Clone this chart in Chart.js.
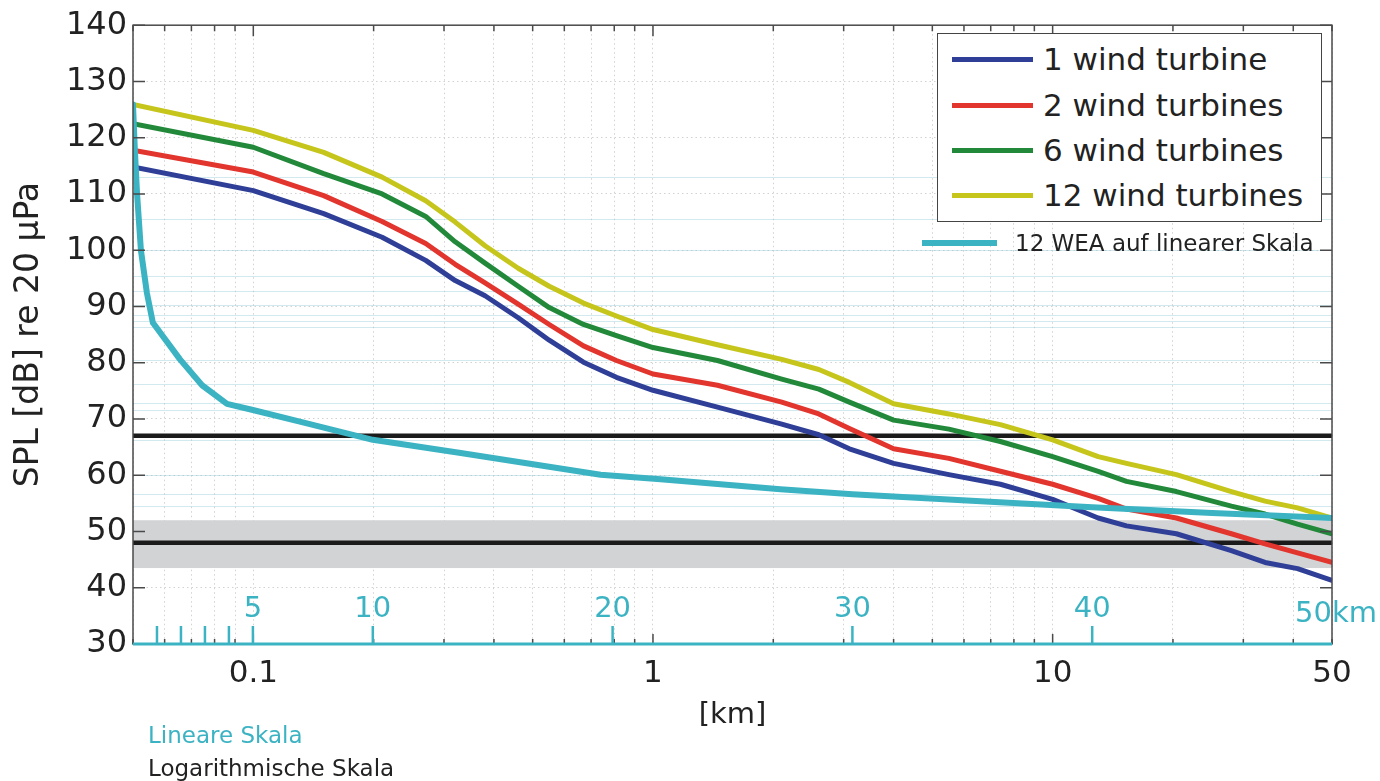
<!DOCTYPE html>
<html lang="de">
<head>
<meta charset="UTF-8">
<title>SPL vs distance</title>
<script src="https://cdn.jsdelivr.net/npm/chart.js"></script>
<style>
  html, body { margin: 0; padding: 0; background: #fff; }
  #wrap { position: relative; width: 1380px; height: 781px; font-family: "DejaVu Sans", sans-serif; color: #222; }
  #chart { position: absolute; left: 0; top: 0; }
  .box { position: absolute; left: 937px; top: 33px; width: 385px; height: 189px; border: 1.5px solid #444; background: #fff; box-sizing: border-box; }
  .row { position: absolute; height: 40px; display: flex; align-items: center; white-space: nowrap; }
  .row .ln { height: 5px; margin-right: 10px; }
  .note { position: absolute; left: 148px; font-size: 23px; white-space: nowrap; }
</style>
</head>
<body>
<div id="wrap">
  <canvas id="chart" width="1380" height="781"></canvas>
  <div class="box"></div>
  <div id="legend"></div>
  <div class="note" style="top:722px;color:#3bb3c3">Lineare Skala</div>
  <div class="note" style="top:755px">Logarithmische Skala</div>
</div>

<script>
  // distance in km (log axis)
  const distKm = [0.05, 0.1, 0.15, 0.21, 0.27, 0.32, 0.38, 0.46, 0.55, 0.67, 0.81, 1, 1.45, 2.1, 2.6, 3.1, 4, 5.5, 7.4, 10, 13, 15.3, 20.4, 28, 34, 41, 50];
  const spl1 = [114.8, 110.6, 106.5, 102.3, 98.2, 94.6, 91.9, 88, 84, 80.1, 77.4, 75.1, 72.1, 69.1, 67.2, 64.7, 62.1, 60.1, 58.4, 55.7, 52.4, 51, 49.6, 46.6, 44.5, 43.4, 41.3];
  const spl2 = [117.8, 113.9, 109.7, 105.1, 101.2, 97.5, 94.2, 90.4, 86.8, 83, 80.4, 78, 76, 73, 70.9, 68.3, 64.7, 63, 60.7, 58.4, 55.9, 54, 52.4, 49.6, 47.8, 46.2, 44.5];
  const spl6 = [122.5, 118.3, 113.6, 110, 106, 101.5, 97.7, 93.6, 89.8, 86.8, 84.8, 82.7, 80.4, 77.1, 75.3, 73, 69.8, 68.2, 66, 63.3, 60.7, 58.9, 57.1, 54.5, 53.1, 51.3, 49.6];
  const spl12 = [125.9, 121.3, 117.4, 113, 108.8, 105, 100.8, 96.8, 93.6, 90.6, 88.3, 85.9, 83.2, 80.6, 78.8, 76.5, 72.7, 70.9, 69, 66.3, 63.3, 62.1, 60.1, 57.1, 55.4, 54.2, 52.4];

  // 12 turbines again, but on the linear km axis
  const linKm = [0, 0.08, 0.17, 0.33, 0.58, 0.83, 1.96, 2.88, 3.92, 5, 7, 10, 13.6, 19.5, 22, 27, 30, 34, 40, 45, 50];
  const linSpl = [125.9, 117.6, 110, 100, 92.4, 87.1, 80.6, 76, 72.7, 71.6, 69.5, 66.3, 64, 60.1, 59.3, 57.5, 56.6, 55.7, 54.3, 53.3, 52.4];

  const seriesNames = ['1 wind turbine', '2 wind turbines', '6 wind turbines', '12 wind turbines'];
  const seriesColors = ['#2f3f97', '#e1352e', '#22893a', '#c6c51c'];
  const linName = '12 WEA auf linearer Skala';
  const cyan = '#3bb3c3';

  const limitLevels = [67, 48];          // black reference lines
  const bandRange = [43.5, 52];          // grey band
  const guideLevels = [113, 105.6, 100, 95.5, 92.8, 90.3, 88.5, 87.4, 86.3, 80.4, 76.2, 72.8, 71.6, 66.3, 60.1, 56.6, 54.5];

  const xLabels = [0.1, 1, 10, 50];
  const linMinor = [1, 2, 3, 4];
  const linLabeled = [5, 10, 20, 30, 40, 50];

  const FONT = '"DejaVu Sans", sans-serif';

  const pts = (xs, ys) => xs.map((x, i) => ({ x, y: ys[i] }));

  const datasets = [];
  datasets.push({ data: pts(linKm, linSpl), xAxisID: 'xlin', borderColor: cyan, borderWidth: 6, order: 0 });
  [spl1, spl2, spl6, spl12].forEach((s, i) => {
    datasets.push({ data: pts(distKm, s), xAxisID: 'x', borderColor: seriesColors[i], borderWidth: 5, order: 1 });
  });
  limitLevels.forEach(l => {
    datasets.push({ data: [{ x: 0.05, y: l }, { x: 50, y: l }], xAxisID: 'x', borderColor: '#1b1b1b', borderWidth: 4.5, order: 2 });
  });

  const isDecade = v => Math.abs(Math.log10(v) - Math.round(Math.log10(v))) < 1e-9;

  const decor = {
    id: 'decor',
    beforeDatasetsDraw(chart) {
      const { ctx, chartArea: a, scales: { y } } = chart;
      ctx.save();
      ctx.strokeStyle = 'rgba(140,200,215,0.4)';
      ctx.lineWidth = 1;
      guideLevels.forEach(g => {
        const py = Math.round(y.getPixelForValue(g)) + 0.5;
        ctx.beginPath(); ctx.moveTo(a.left, py); ctx.lineTo(a.right, py); ctx.stroke();
      });
      ctx.fillStyle = '#d2d3d5';
      const y1 = y.getPixelForValue(bandRange[1]), y0 = y.getPixelForValue(bandRange[0]);
      ctx.fillRect(a.left, y1, a.right - a.left, y0 - y1);
      ctx.restore();
    },
    afterDatasetsDraw(chart) {
      const { ctx, chartArea: a, scales: { x, y, xlin } } = chart;
      ctx.save();
      // frame
      ctx.strokeStyle = '#4a4a4a';
      ctx.lineWidth = 1.5;
      ctx.strokeRect(a.left, a.top, a.right - a.left, a.bottom - a.top);
      // inward y ticks
      y.ticks.forEach(t => {
        const py = y.getPixelForValue(t.value);
        ctx.beginPath();
        ctx.moveTo(a.left, py); ctx.lineTo(a.left + 12, py);
        ctx.moveTo(a.right, py); ctx.lineTo(a.right - 12, py);
        ctx.stroke();
      });
      // inward log x ticks
      x.ticks.forEach(t => {
        const px = x.getPixelForValue(t.value);
        const len = isDecade(t.value) ? 11 : 6;
        ctx.beginPath();
        ctx.moveTo(px, a.top); ctx.lineTo(px, a.top + len);
        ctx.moveTo(px, a.bottom); ctx.lineTo(px, a.bottom - len + 1);
        ctx.stroke();
      });
      // cyan linear axis
      ctx.strokeStyle = cyan;
      ctx.lineWidth = 3;
      ctx.beginPath(); ctx.moveTo(a.left, a.bottom); ctx.lineTo(a.right, a.bottom); ctx.stroke();
      ctx.lineWidth = 2.5;
      linMinor.concat(linLabeled.slice(0, -1)).forEach(v => {
        const px = xlin.getPixelForValue(v);
        ctx.beginPath(); ctx.moveTo(px, a.bottom); ctx.lineTo(px, a.bottom - 18); ctx.stroke();
      });
      ctx.fillStyle = cyan;
      ctx.font = '29px ' + FONT;
      ctx.textBaseline = 'middle';
      linLabeled.forEach((v, i) => {
        const px = xlin.getPixelForValue(v);
        if (i === linLabeled.length - 1) {
          ctx.textAlign = 'right';
          ctx.fillText(v + 'km', px + 45, a.bottom - 30);
        } else {
          ctx.textAlign = 'center';
          ctx.fillText(String(v), px, a.bottom - 35);
        }
      });
      ctx.restore();
    }
  };

  new Chart(document.getElementById('chart'), {
    type: 'line',
    data: { datasets },
    options: {
      responsive: false,
      animation: false,
      layout: { padding: { top: 20, right: 48, left: 0, bottom: 0 } },
      elements: { point: { radius: 0 }, line: { tension: 0, borderCapStyle: 'round', borderJoinStyle: 'round' } },
      plugins: { legend: { display: false }, tooltip: { enabled: false } },
      scales: {
        x: {
          type: 'logarithmic', position: 'bottom', min: 0.05, max: 50,
          afterFit: s => { s.height = 137; },
          afterBuildTicks: s => {
            s.ticks = s.ticks.filter(t => {
              const e = Math.floor(Math.log10(t.value) + 1e-9);
              const m = t.value / Math.pow(10, e);
              return Math.abs(m - Math.round(m)) < 1e-6;
            });
          },
          grid: { color: '#d2d2d2', lineWidth: 1, drawTicks: false },
          border: { display: false, dash: [1.5, 3] },
          ticks: {
            autoSkip: false, maxRotation: 0, padding: 11, color: '#222',
            font: { family: FONT, size: 31 },
            callback: v => xLabels.find(l => Math.abs(l - v) < 1e-9) !== undefined ? String(v) : ''
          },
          title: { display: true, text: '[km]', color: '#222', font: { family: FONT, size: 29 }, padding: { bottom: 48 } }
        },
        xlin: { type: 'linear', min: 0, max: 50, display: false },
        y: {
          min: 30, max: 140,
          afterFit: s => { s.width = 133; },
          grid: { color: '#d2d2d2', lineWidth: 1, drawTicks: false },
          border: { display: false, dash: [1.5, 3] },
          ticks: { stepSize: 10, padding: 6, color: '#222', font: { family: FONT, size: 32 } },
          title: { display: true, text: 'SPL [dB] re 20 µPa', color: '#222', font: { family: FONT, size: 33 }, padding: { top: 10 } }
        }
      }
    },
    plugins: [decor]
  });

  // legend overlay
  const legend = document.getElementById('legend');
  const rowsY = [59, 105, 150, 195];
  seriesNames.forEach((n, i) => {
    legend.insertAdjacentHTML('beforeend',
      `<div class="row" style="left:952px;top:${rowsY[i] - 20}px;font-size:31px">
         <div class="ln" style="width:81px;background:${seriesColors[i]}"></div><span>${n}</span></div>`);
  });
  legend.insertAdjacentHTML('beforeend',
    `<div class="row" style="left:922px;top:223px;font-size:23px">
       <div class="ln" style="width:75px;height:6px;background:${cyan};margin-right:18px"></div><span>${linName}</span></div>`);
</script>
</body>
</html>
